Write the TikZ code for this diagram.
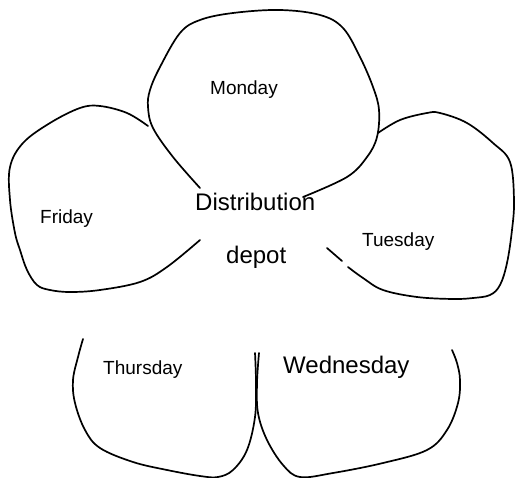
\documentclass[tikz,border=0pt]{standalone}
\usepackage{fontspec}
\setmainfont{Liberation Sans}
\begin{document}
\begin{tikzpicture}[x=1pt,y=-1pt,
  petal/.style={line width=1.7pt,line cap=round,line join=round},
  smalllabel/.style={anchor=base west,inner sep=0pt,font=\fontsize{19}{22}\selectfont},
  biglabel/.style={anchor=base west,inner sep=0pt,font=\fontsize{24}{28}\selectfont}]
\useasboundingbox (0,0) rectangle (516,478);
% Monday petal
\draw[petal] plot[smooth,tension=0.6] coordinates {
  (200,188) (173,157) (153,128) (148,107) (150,90) (160,67) (180,33) (200,20)
  (233,13) (280,10) (320,15) (343,28) (360,57) (373,87) (379,110) (377,137)
  (367,157) (347,177) (303,197)};
% Friday petal
\draw[petal] plot[smooth,tension=0.6] coordinates {
  (148,126) (127,113) (100,106) (80,108) (50,123) (23,143) (10,167)
  (10,200) (15,233) (20,250) (27,270) (37,285) (50,290) (70,292) (100,290)
  (140,282) (167,267) (200,240)};
% Tuesday petal
\draw[petal] plot[smooth,tension=0.6] coordinates {
  (378,133) (400,120) (427,113) (440,113) (467,123) (493,143) (510,162)
  (514,200) (512,230) (507,263) (500,285) (490,295) (473,298)
  (453,299) (417,297) (383,290) (363,278) (348,267)};
\draw[petal] (327,248) -- (342,261);
% Thursday petal
\draw[petal] plot[smooth,tension=0.6] coordinates {
  (83,339) (78,357) (73,380) (75,403) (85,430) (100,448) (133,462) (167,470)
  (200,476) (218,477) (233,470) (247,450) (255,417) (256,383) (255,353)};
% Wednesday petal
\draw[petal] plot[smooth,tension=0.6] coordinates {
  (259,353) (257,383) (258,413) (267,440) (283,465) (300,477) (333,473)
  (383,463) (427,450) (447,430) (458,403) (460,380) (457,363) (452,350)};
% labels
\node[smalllabel] (mon) at (210,95) {Monday};
\node[smalllabel] (fri) at (40,224) {Friday};
\node[smalllabel] (tue) at (362,247) {Tuesday};
\node[smalllabel] (thu) at (103,374) {Thursday};
\node[biglabel] (wed) at (283,373) {Wednesday};
\node[biglabel] (dist) at (195,211) {Distribution};
\node[biglabel] (depot) at (226,263) {depot};
\end{tikzpicture}
\end{document}
